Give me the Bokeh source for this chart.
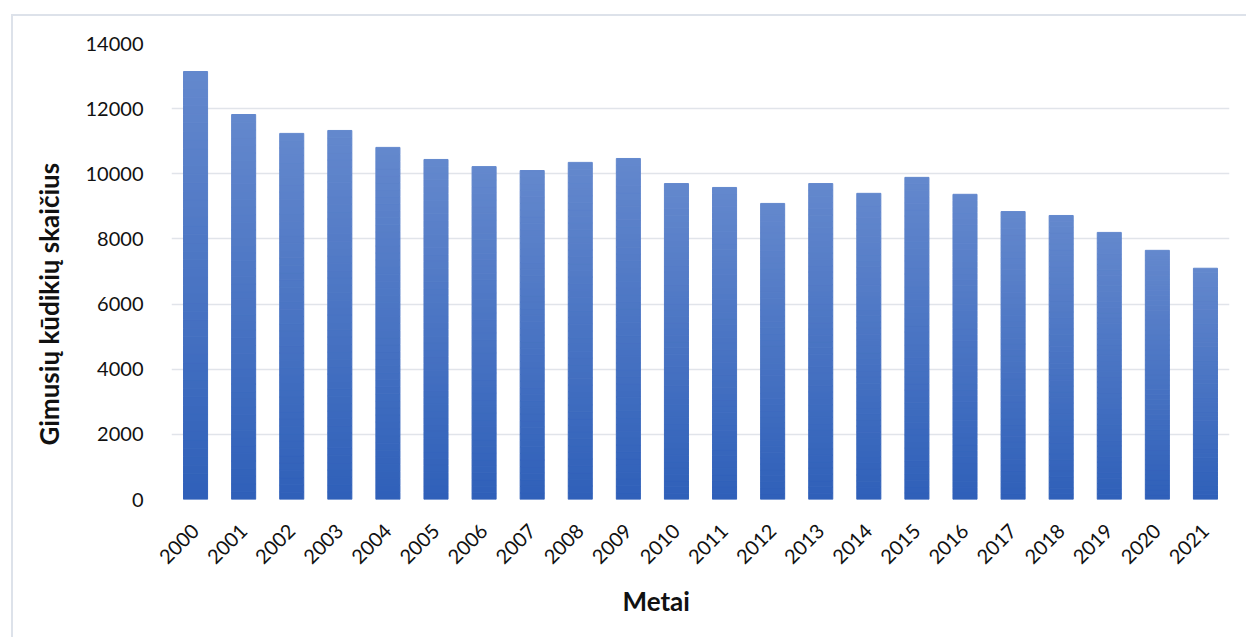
import math
from bokeh.plotting import figure
from bokeh.models import FactorRange, Range1d, Title, ColumnDataSource
from bokeh.embed import file_html
from bokeh.resources import INLINE

years = [str(y) for y in range(2000, 2022)]
births = [13140, 11820, 11240, 11330, 10810, 10440, 10220, 10100, 10350, 10470,
          9700, 9580, 9090, 9700, 9400, 9890, 9370, 8840, 8720, 8200, 7650, 7100]
y_ticks = [0, 2000, 4000, 6000, 8000, 10000, 12000, 14000]
y_title = "Gimusių kūdikių skaičius"
x_title = "Metai"

TOP_COL = (0x64, 0x88, 0xCD)
BOT_COL = (0x2F, 0x60, 0xB9)
N = 50

def mix(t):
    r = [round(BOT_COL[k] + (TOP_COL[k] - BOT_COL[k]) * t) for k in range(3)]
    return "#%02x%02x%02x" % tuple(r)

xs, bots, tops, cols = [], [], [], []
for yr, v in zip(years, births):
    for i in range(N):
        xs.append(yr)
        bots.append(v * i / N)
        tops.append(v * (i + 1) / N)
        cols.append(mix((i + 0.5) / N))
src = ColumnDataSource(dict(x=xs, bottom=bots, top=tops, color=cols))

p = figure(width=1235, height=623, x_range=FactorRange(*years, range_padding=0),
           y_range=Range1d(0, 14000), output_backend="svg", toolbar_location=None,
           min_border_left=157, min_border_right=19, min_border_top=27, min_border_bottom=140)
p.margin = (14, 0, 0, 11)
p.styles = {"border-left": "2px solid #dde2ea", "border-top": "2px solid #dde2ea"}
p.outline_line_color = None
p.background_fill_color = "white"
p.border_fill_color = "white"

p.vbar(x="x", bottom="bottom", top="top", width=0.50, fill_color="color",
       line_color="color", line_width=1, source=src)

p.xgrid.grid_line_color = None
p.ygrid.grid_line_color = "#e1e4ea"
p.ygrid.grid_line_width = 1.6
p.ygrid.ticker = y_ticks

p.yaxis.ticker = y_ticks
p.yaxis.axis_line_color = None
p.yaxis.major_tick_line_color = None
p.yaxis.minor_tick_line_color = None
p.yaxis.major_label_text_font = "Lato"
p.yaxis.major_label_text_font_size = "20px"
p.yaxis.major_label_text_color = "#111111"
p.yaxis.major_label_standoff = 22

p.xaxis.axis_line_color = None
p.xaxis.major_tick_line_color = None
p.xaxis.major_label_orientation = math.pi / 4
p.xaxis.major_label_text_font = "Lato"
p.xaxis.major_label_text_font_size = "20px"
p.xaxis.major_label_text_color = "#111111"
p.xaxis.major_label_standoff = 22

p.add_layout(Title(text=y_title, align="left", offset=54, text_font="Lato",
                   text_font_style="bold", text_font_size="26px", text_color="#111111",
                   standoff=35), "left")
p.add_layout(Title(text=x_title, align="left", offset=451, text_font="Lato",
                   text_font_style="bold", text_font_size="26px", text_color="#111111",
                   standoff=18), "below")

open("out.html", "w").write(file_html(p, INLINE))
